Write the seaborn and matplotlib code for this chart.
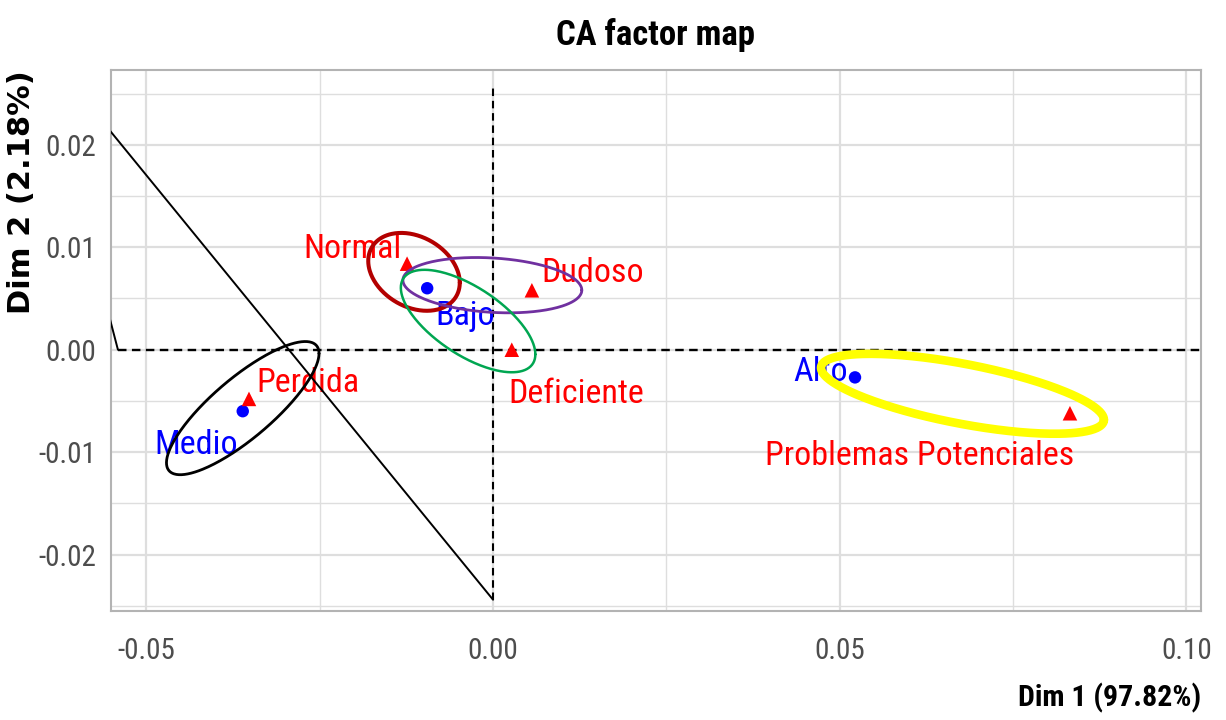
import numpy as np
import pandas as pd
import matplotlib
matplotlib.use("Agg")
import matplotlib.pyplot as plt
from matplotlib import font_manager
import seaborn as sns

# Row categories (blue dots)
row_labels = ["Bajo", "Medio", "Alto"]
row_dim1 = [-0.0095, -0.0361, 0.0522]
row_dim2 = [0.0060, -0.0060, -0.0027]

# Column categories (red triangles)
col_labels = ["Normal", "Dudoso", "Deficiente", "Perdida", "Problemas Potenciales"]
col_dim1 = [-0.0124, 0.0056, 0.0027, -0.0352, 0.0832]
col_dim2 = [0.0084, 0.0058, 0.0000, -0.0048, -0.0062]

# Confidence ellipses: centre, half extent along each axis, correlation
ell_cx = [-0.0114, -0.0001, -0.0036, -0.0361, 0.0677]
ell_cy = [0.0076, 0.0063, 0.0028, -0.0057, -0.0043]
ell_sx = [0.0066, 0.0129, 0.0097, 0.0110, 0.0204]
ell_sy = [0.0038, 0.0027, 0.0050, 0.0065, 0.0039]
ell_rho = [-0.28, -0.18, -0.65, 0.82, -0.65]

# Reference segments (x0, y0, x1, y1)
seg_x0 = [-0.0700, -0.0600]
seg_y0 = [0.0336, 0.0153]
seg_x1 = [0.0000, -0.0541]
seg_y1 = [-0.0244, 0.0000]

x_ticks = [-0.05, 0.00, 0.05, 0.10]
y_ticks = [-0.02, -0.01, 0.00, 0.01, 0.02]
x_minor = [-0.025, 0.025, 0.075]
y_minor = [-0.025, -0.015, -0.005, 0.005, 0.015, 0.025]

sns.set_theme(style="whitegrid")

available = {f.name for f in font_manager.fontManager.ttflist}
narrow = next((f for f in ["Liberation Sans Narrow", "Roboto Condensed",
                           "DejaVu Sans Condensed", "Open Sans Condensed"] if f in available), None)
if narrow is None:
    narrow, k = "Liberation Sans", 0.85
else:
    k = 1.0
plt.rcParams["font.family"] = [narrow, "DejaVu Sans"]
plt.rcParams["text.color"] = "black"
plt.rcParams["axes.labelcolor"] = "black"

RED, BLUE = "#FF0000", "#0000FF"
ell_colors = ["#B30000", "#7030A0", "#00A651", "#000000", "#FFFF00"]
ell_lw = [2.9, 2.0, 1.8, 2.0, 6.2]

# label offsets in pixels relative to each point (text baseline centre)
row_off = [(38, -37), (-47, -43), (-34, -4)]
col_off = [(-55, 6), (61, 8), (64, -53), (59, 7), (-150, -52)]

fig = plt.figure(figsize=(12.26, 7.2), dpi=100)
ax = fig.add_axes([111 / 1226, 1 - 611 / 720, 1090 / 1226, 541 / 720])

rows = pd.DataFrame({"dim1": row_dim1, "dim2": row_dim2, "label": row_labels})
cols = pd.DataFrame({"dim1": col_dim1, "dim2": col_dim2, "label": col_labels})

# axes through the origin
ax.plot([seg_x1[1], 0.12], [0, 0], color="black", lw=1.7,
        linestyle=(0, (3.6, 2.3)), zorder=2)
ax.plot([0, 0], [seg_y1[0], 0.0259], color="black", lw=1.5,
        linestyle=(0, (3.6, 2.3)), zorder=2)

sns.scatterplot(data=rows, x="dim1", y="dim2", color=BLUE, marker="o", s=80,
                edgecolor="none", ax=ax, zorder=3)
sns.scatterplot(data=cols, x="dim1", y="dim2", color=RED, marker="^", s=110,
                edgecolor="none", ax=ax, zorder=3)

for df, offs, c in [(rows, row_off, BLUE), (cols, col_off, RED)]:
    for (_, r), (dx, dy) in zip(df.iterrows(), offs):
        ax.annotate(r["label"], (r["dim1"], r["dim2"]), xytext=(dx, dy),
                    textcoords="offset pixels", ha="center", va="baseline",
                    color=c, fontsize=24.5 * k, zorder=4)

t = np.linspace(0, 2 * np.pi, 300)
for cx, cy, sx, sy, rho, c, lw in zip(ell_cx, ell_cy, ell_sx, ell_sy, ell_rho,
                                      ell_colors, ell_lw):
    ex = cx + sx * np.cos(t)
    ey = cy + sy * (rho * np.cos(t) + np.sqrt(1 - rho ** 2) * np.sin(t))
    ax.plot(ex, ey, color=c, lw=lw, zorder=5, solid_capstyle="round")

for x0, y0, x1, y1 in zip(seg_x0, seg_y0, seg_x1, seg_y1):
    ax.plot([x0, x1], [y0, y1], color="black", lw=1.4, zorder=5)

ax.set_xlim(-0.0551, 0.1021)
ax.set_ylim(-0.0255, 0.0273)
ax.set_xticks(x_ticks)
ax.set_xticklabels([f"{v:.2f}" for v in x_ticks])
ax.set_yticks(y_ticks)
ax.set_yticklabels([f"{v:.2f}" for v in y_ticks])
ax.set_xticks(x_minor, minor=True)
ax.set_yticks(y_minor, minor=True)

ax.set_axisbelow(True)
ax.grid(which="major", color="#DEDEDE", lw=1.6)
ax.grid(which="minor", color="#DEDEDE", lw=1.0)
for sp in ax.spines.values():
    sp.set_color("#B3B3B3")
    sp.set_linewidth(1.5)

ax.tick_params(which="major", length=6.5, width=1.3, color="#B3B3B3",
               labelcolor="#4D4D4D", labelsize=21 * k)
ax.tick_params(axis="x", which="major", pad=12)
ax.tick_params(axis="y", which="major", pad=4)
ax.tick_params(which="minor", length=0)

ax.set_title("CA factor map", fontsize=25 * k, fontweight="bold", pad=18,
             color="black")
ax.set_xlabel("Dim 1 (97.82%)", loc="right", fontsize=21.5 * k, fontweight="bold")
ax.xaxis.set_label_coords(1.0, -0.133)
ax.xaxis.label.set_va("top")
ax.set_ylabel("Dim 2 (2.18%)", loc="top", fontsize=22, fontweight="bold",
              family="DejaVu Sans")
ax.yaxis.set_label_coords(-0.069, 1.0)

fig.savefig("out.png", dpi=100)
